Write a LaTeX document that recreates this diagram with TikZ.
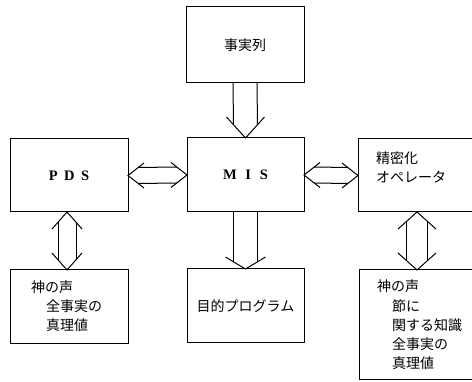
\documentclass[tikz,border=0pt]{standalone}
\usepackage{fontspec}
\setmainfont{Liberation Serif}
\newfontfamily\jp{Noto Sans CJK JP}
\usetikzlibrary{calc}
\begin{document}
\begin{tikzpicture}[x=1pt,y=-1pt,
  box/.style={draw, line width=1pt, inner sep=0pt, outer sep=0pt},
  ln/.style={line width=1pt, line join=miter},
  jtxt/.style={font=\jp\fontsize{14}{19.2}\selectfont, inner sep=0pt, align=left},
  ltxt/.style={font=\bfseries\fontsize{14.5}{17}\selectfont, inner sep=0pt}]
\useasboundingbox (0,0) rectangle (472,382);
\clip (0,0) rectangle (472,382);
\fill[white] (0,0) rectangle (472,382);
% boxes
\node[box, minimum width=118pt, minimum height=76pt] (top) at (245,45) {};
\node[box, minimum width=117pt, minimum height=74pt] (mis) at (245.5,175) {};
\node[box, minimum width=118pt, minimum height=73pt] (pds) at (69,175.5) {};
\node[box, minimum width=132pt, minimum height=73pt] (ope) at (424,175.5) {};
\node[box, minimum width=118pt, minimum height=74pt] (bl) at (69,307) {};
\node[box, minimum width=117pt, minimum height=74pt] (bc) at (245.5,306) {};
\node[box, minimum width=131pt, minimum height=110pt] (br) at (424.5,325) {};
% texts
\node[jtxt] (ttop) at (top.center) {事実列};
\node[ltxt] (tmis) at (mis.center) {M\hspace{0.6em}I\hspace{0.6em}S};
\node[ltxt] (tpds) at (pds.center) {P\hspace{0.45em}D\hspace{0.45em}S};
\node[jtxt, anchor=west] (tope) at (376,167.5) {精密化\\オペレータ};
\node[jtxt, anchor=west] (tbl) at (31,306) {神の声\\\hspace*{15pt}全事実の\\\hspace*{15pt}真理値};
\node[jtxt] (tbc) at (bc.center) {目的プログラム};
\node[jtxt, anchor=west] (tbr) at (377,325) {神の声\\\hspace*{15pt}節に\\\hspace*{15pt}関する知識\\\hspace*{15pt}全事実の\\\hspace*{15pt}真理値};
% top -> mis
\draw[ln] ($(top.south)+(-12,0)$) -- ($(mis.north)+(-12,-13.3)$);
\draw[ln] ($(top.south)+(12,0)$) -- ($(mis.north)+(12,-13.3)$);
\draw[ln] ($(mis.north)+(-19,-21)$) -- (mis.north) -- ($(mis.north)+(19,-21)$);
% mis -> bc
\draw[ln] ($(mis.south)+(-12,0)$) -- ($(bc.north)+(-12,-7.2)$);
\draw[ln] ($(mis.south)+(12,0)$) -- ($(bc.north)+(12,-7.2)$);
\draw[ln] ($(bc.north)+(-20,-12)$) -- (bc.north) -- ($(bc.north)+(20,-12)$);
% pds <-> mis
\draw[ln] ($(pds.east)+(10.2,-8)$) -- ($(mis.west)+(-10.2,-8)$);
\draw[ln] ($(pds.east)+(10.2,8)$) -- ($(mis.west)+(-10.2,8)$);
\draw[ln] ($(pds.east)+(16,-12.5)$) -- (pds.east) -- ($(pds.east)+(16,12.5)$);
\draw[ln] ($(mis.west)+(-16,-12.5)$) -- (mis.west) -- ($(mis.west)+(-16,12.5)$);
% mis <-> ope
\draw[ln] ($(mis.east)+(10.2,-8)$) -- ($(ope.west)+(-10.2,-8)$);
\draw[ln] ($(mis.east)+(10.2,8)$) -- ($(ope.west)+(-10.2,8)$);
\draw[ln] ($(mis.east)+(16,-12.5)$) -- (mis.east) -- ($(mis.east)+(16,12.5)$);
\draw[ln] ($(ope.west)+(-16,-12.5)$) -- (ope.west) -- ($(ope.west)+(-16,12.5)$);
% pds <-> bl
\coordinate (pa) at ($(pds.south)+(-2,0)$);
\coordinate (pb) at ($(bl.north)+(-2,0)$);
\draw[ln] ($(pa)+(-9,10.2)$) -- ($(pb)+(-9,-10.2)$);
\draw[ln] ($(pa)+(9,10.2)$) -- ($(pb)+(9,-10.2)$);
\draw[ln] ($(pa)+(-15,17)$) -- (pa) -- ($(pa)+(15,17)$);
\draw[ln] ($(pb)+(-15,-17)$) -- (pb) -- ($(pb)+(15,-17)$);
% ope <-> br
\coordinate (oa) at ($(ope.south)+(-7,0)$);
\coordinate (ob) at ($(br.north)+(-7.5,0)$);
\draw[ln] ($(oa)+(-10.5,9.4)$) -- ($(ob)+(-10.5,-9.4)$);
\draw[ln] ($(oa)+(10.5,9.4)$) -- ($(ob)+(10.5,-9.4)$);
\draw[ln] ($(oa)+(-19,17)$) -- (oa) -- ($(oa)+(19,17)$);
\draw[ln] ($(ob)+(-19,-17)$) -- (ob) -- ($(ob)+(19,-17)$);
\end{tikzpicture}
\end{document}
